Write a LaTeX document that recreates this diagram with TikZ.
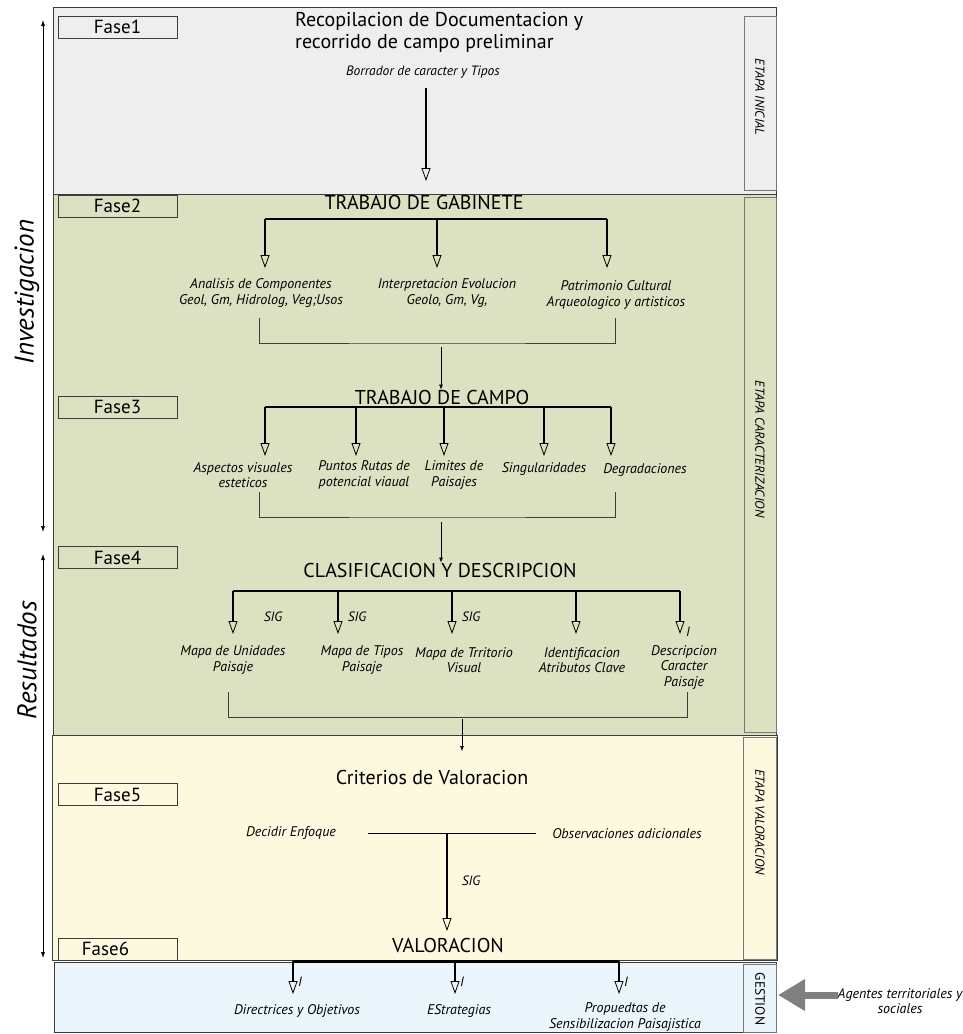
\documentclass[tikz,border=0pt]{standalone}
\usepackage{fontspec}
\setmainfont{PT Sans}
\usetikzlibrary{arrows.meta}
\definecolor{bgray}{RGB}{238,238,238}
\definecolor{bgreen}{RGB}{220,225,193}
\definecolor{byellow}{RGB}{252,249,222}
\definecolor{bblue}{RGB}{234,246,252}
\definecolor{edge}{RGB}{60,60,60}
\definecolor{sidegray}{RGB}{120,120,120}
\definecolor{bigarrow}{RGB}{128,128,128}
\begin{document}
\begin{tikzpicture}[x=1pt,y=-1pt,
  band/.style={draw=edge, line width=1pt},
  sidebox/.style={draw=sidegray, line width=0.9pt},
  fasebox/.style={draw=edge, line width=0.8pt, minimum width=119pt, minimum height=22pt, inner sep=0pt, font=\fontsize{19}{19}\selectfont},
  etapa/.style={font=\fontsize{13}{13}\selectfont\itshape, rotate=-90, inner sep=0pt},
  title/.style={font=\fontsize{20}{22}\selectfont, inner sep=0pt},
  item/.style={font=\fontsize{14}{15.5}\selectfont\itshape, align=center, inner sep=0pt},
  small/.style={font=\fontsize{13.5}{13.5}\selectfont\itshape, inner sep=0pt},
  side/.style={font=\fontsize{27}{27}\selectfont\itshape, rotate=90, inner sep=0pt},
  oarrow/.style={-{Triangle[open,length=13pt,width=9pt,line width=0.8pt]}, line width=1.4pt},
  sarrow/.style={-{Latex[length=5pt,width=4pt]}, line width=0.6pt},
  tarrow/.style={{Latex[length=6pt,width=4pt]}-{Latex[length=6pt,width=4pt]}, line width=0.6pt},
  bar/.style={line width=1.3pt},
  conn/.style={line width=0.7pt, draw=edge},
]
\useasboundingbox (0,0) rectangle (963,1034);
% ---------- bands ----------
\draw[band, fill=bgray] (53,7) rectangle (776,194);
\draw[band, fill=bgreen] (53,194) rectangle (776,735);
\draw[band, fill=byellow] (52,735) rectangle (777,960);
\draw[band, fill=bblue] (54,962) rectangle (776,1032);
% ---------- side boxes ----------
\draw[sidebox] (744,16) rectangle (776,190);
\draw[sidebox] (744,197) rectangle (776,732);
\draw[sidebox] (743,737) rectangle (776,959);
\draw[sidebox] (743,964) rectangle (776,1032);
\node[etapa] (e1) at (760,97) {ETAPA INICIAL};
\node[etapa] (e2) at (760,449) {ETAPA CARACTERIZACION};
\node[etapa] (e3) at (760,822) {ETAPA VALORACION};
\node[etapa, font=\fontsize{13.5}{13.5}\selectfont] (e4) at (760,999) {GESTION};
% ---------- fase boxes ----------
\node[fasebox] (f1) at (117.5,27) {Fase1};
\node[fasebox] (f2) at (117.5,206) {Fase2};
\node[fasebox] (f3) at (117.5,407) {Fase3};
\node[fasebox] (f4) at (117.5,557.5) {Fase4};
\node[fasebox] (f5) at (117.5,794.5) {Fase5};
\node[fasebox] (f6) at (117.5,949) {\hspace*{-24pt}Fase6};
% ---------- left side ----------
\coordinate (i1) at (43,20);
\coordinate (i2) at (43,532);
\coordinate (r1) at (43,554);
\coordinate (r2) at (43,958);
\draw[tarrow] (i1) -- (i2);
\draw[tarrow] (r1) -- (r2);
\node[side] (inv) at (27,292) {Investigacion};
\node[side] (res) at (27,660) {Resultados};
% ---------- Fase1 ----------
\node[title, align=left, anchor=north west] (t1) at (295,12) {Recopilacion de Documentacion y\\recorrido de campo preliminar};
\node[small] (borr) at (423,72) {Borrador de caracter y Tipos};
\coordinate (a1s) at (426,88);
\coordinate (a1e) at (426,181);
\draw[oarrow] (a1s) -- (a1e);
% ---------- Fase2 ----------
\node[title] (gab) at (424,202) {TRABAJO DE GABINETE};
\coordinate (g1) at (265,219); \coordinate (g2) at (437,219); \coordinate (g3) at (607,219);
\draw[bar] (g1) -- (g3);
\node[item] (ac) at (261,293) {Analisis de Componentes\\Geol, Gm, Hidrolog, Veg;Usos};
\node[item] (ie) at (447,293) {Interpretacion Evolucion\\Geolo, Gm, Vg,};
\node[item] (pc) at (616,295) {Patrimonio Cultural\\Arqueologico y artisticos};
\draw[oarrow] (g1) -- (g1 |- 0,268);
\draw[oarrow] (g2) -- (g2 |- 0,268);
\draw[oarrow] (g3) -- (g3 |- 0,268);
\coordinate (m2a) at (259,318); \coordinate (m2b) at (615,318);
\draw[conn] (m2a) |- (437,343) -| (m2b);
\coordinate (m2s) at (441,347);
% ---------- Fase3 ----------
\node[title] (cam) at (442,397) {TRABAJO DE CAMPO};
\draw[sarrow] (m2s) -- (cam.north -| m2s);
\coordinate (c1) at (265,407); \coordinate (c2) at (356,407); \coordinate (c3) at (444,407);
\coordinate (c4) at (544,407); \coordinate (c5) at (611,407);
\draw[bar] (c1) -- (c5);
\foreach \c in {c1,c2,c3,c4,c5} \draw[oarrow] (\c) -- (\c |- 0,456);
\node[item] (av) at (243,475) {Aspectos visuales\\esteticos};
\node[item] (pr) at (364,475) {Puntos Rutas de\\potencial viaual};
\node[item] (lp) at (454,475) {Limites de\\Paisajes};
\node[item] (si) at (544,469) {Singularidades};
\node[item] (de) at (645,470) {Degradaciones};
\coordinate (m3a) at (259,492); \coordinate (m3b) at (615,492);
\draw[conn] (m3a) |- (437,517) -| (m3b);
\coordinate (m3s) at (441,522);
% ---------- Fase4 ----------
\node[title] (cla) at (440,570) {CLASIFICACION Y DESCRIPCION};
\draw[sarrow] (m3s) -- (cla.north -| m3s);
\coordinate (d1) at (233,591); \coordinate (d2) at (338,591); \coordinate (d3) at (452,591);
\coordinate (d4) at (576,591); \coordinate (d5) at (680,591);
\draw[bar] (d1) -- (d5);
\foreach \c in {d1,d2,d3,d4,d5} \draw[oarrow] (\c) -- (\c |- 0,634);
\node[small] (s1) at (273,617) {SIG};
\node[small] (s2) at (357,617) {SIG};
\node[small] (s3) at (471,617) {SIG};
\node[small] (s4) at (688,632) {I};
\node[item] (mu) at (233,660) {Mapa de Unidades\\Paisaje};
\node[item] (mt) at (362,660) {Mapa de Tipos\\Paisaje};
\node[item] (mv) at (464,660) {Mapa de Trritorio\\Visual};
\node[item] (ia) at (582,660) {Identificacion\\Atributos Clave};
\node[item] (dc) at (684,667) {Descripcion\\Caracter\\Paisaje};
\coordinate (m4a) at (228,692); \coordinate (m4b) at (687,692);
\draw[conn] (m4a) |- (460,717) -| (m4b);
\coordinate (m4s) at (462,719);
% ---------- Fase5 ----------
\node[title] (cri) at (432,777) {Criterios de Valoracion};
\coordinate (m4e) at (462,751);
\draw[sarrow] (m4s) -- (m4e);
\node[item] (den) at (291,833) {Decidir Enfoque};
\node[item] (obs) at (627,834) {Observaciones adicionales};
\coordinate (h1) at (368,833); \coordinate (h2) at (536,833); \coordinate (hv) at (447,833);
\draw[line width=1pt] (h1) -- (h2);
\node[title] (val) at (448,945) {VALORACION};
\draw[oarrow] (hv) -- (hv |- 0,931);
\node[small] (s5) at (471,881) {SIG};
% ---------- Gestion ----------
\coordinate (b1) at (293,961); \coordinate (b2) at (455,961); \coordinate (b3) at (619,961);
\draw[line width=3pt] (b1) -- (b3);
\foreach \c in {b1,b2,b3} \draw[oarrow] (\c) -- (\c |- 0,994);
\node[small] (i1l) at (300,982) {I};
\node[small] (i2l) at (462,982) {I};
\node[small] (i3l) at (626,982) {I};
\node[item] (dir) at (297,1011) {Directrices y Objetivos};
\node[item] (est) at (459,1011) {EStrategias};
\node[item] (pro) at (625,1017) {Propuedtas de\\Sensibilizacion Paisajistica};
% ---------- agentes ----------
\node[item] (ag) at (900,1001) {Agentes territoriales y\\sociales};
\coordinate (gt) at (778,995);
\draw[-{Triangle[length=27pt,width=30pt]}, line width=7pt, draw=bigarrow, fill=bigarrow] (ag.west |- gt) -- (gt);
\end{tikzpicture}
\end{document}
